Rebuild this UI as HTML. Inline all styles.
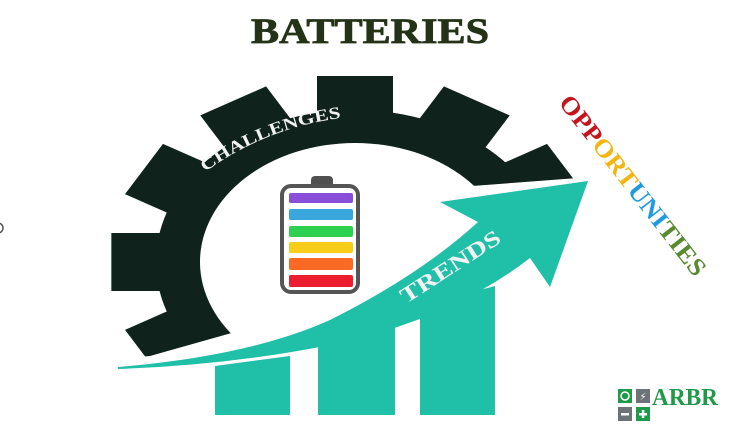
<!DOCTYPE html>
<html><head><meta charset="utf-8"><style>
html,body{margin:0;padding:0;background:#fff;width:750px;height:437px;overflow:hidden}
svg{display:block}
</style></head><body>
<svg width="750" height="437" viewBox="0 0 750 437" xmlns="http://www.w3.org/2000/svg">
<defs>
<clipPath id="gc"><polygon points="0,0,750,0,750,165,472,186,430,210,340,285,260,325,150,356,0,368"/></clipPath>
<mask id="hole"><rect width="750" height="437" fill="#fff"/><ellipse cx="355" cy="262" rx="155" ry="119" fill="#000"/></mask>
</defs>
<text x="370" y="43" text-anchor="middle" font-family="Liberation Serif, serif" font-weight="bold" font-size="36" fill="#243317" textLength="238" lengthAdjust="spacingAndGlyphs" stroke="#243317" stroke-width="0.8">BATTERIES</text>
<g clip-path="url(#gc)" mask="url(#hole)">
 <g transform="translate(355,262) scale(1.31,1)" fill="#0f221c">
  <circle r="152"/>
  <g id="t"><rect x="-29" y="-186" width="58" height="40"/></g>
  <use href="#t" transform="rotate(-30)"/><use href="#t" transform="rotate(-60)"/>
  <use href="#t" transform="rotate(-90)"/><use href="#t" transform="rotate(-120)"/>
  <use href="#t" transform="rotate(30)"/><use href="#t" transform="rotate(60)"/>
 </g>
</g>
<path id="cp" d="M205,172 Q270,125 350,117" fill="none"/>
<text font-family="Liberation Serif, serif" font-weight="bold" font-size="17" fill="#f2f2f2"><textPath href="#cp" textLength="148" lengthAdjust="spacingAndGlyphs">CHALLENGES</textPath></text>
<!-- bars -->
<g fill="#1fbfa8">
<polygon points="215,366 290,356 290,415 215,415"/>
<polygon points="318,343 395,325 395,415 318,415"/>
<polygon points="420,306 495,286 495,415 420,415"/>
</g>
<!-- arrow -->
<path d="M118,367 Q250,356 330,320 Q420,275 478,222 L440,202 L588,181 L550,287 L530,258 Q450,320 330,345 Q230,365 118,369 Z" fill="#1fbfa8"/>
<text transform="translate(406,304) rotate(-33)" font-family="Liberation Serif, serif" font-weight="bold" font-size="22" fill="#f2f2f2" textLength="115" lengthAdjust="spacingAndGlyphs">TRENDS</text>
<!-- battery -->
<rect x="311" y="176" width="22" height="14" rx="4" fill="#505050"/>
<rect x="282" y="186" width="76" height="106" rx="9" fill="#fff" stroke="#555" stroke-width="4"/>
<rect x="289" y="193" width="64" height="10" rx="2" fill="#8a4fd8"/>
<rect x="289" y="209" width="64" height="11" rx="2" fill="#3aa7dc"/>
<rect x="289" y="226" width="64" height="11" rx="2" fill="#2ed14f"/>
<rect x="289" y="242" width="64" height="11" rx="2" fill="#f7cd1a"/>
<rect x="289" y="258" width="64" height="12" rx="2" fill="#fb6a24"/>
<rect x="289" y="275" width="64" height="12" rx="2" fill="#ec1d2e"/>
<!-- opportunities -->
<text transform="translate(558,103) rotate(52)" font-family="Liberation Serif, serif" font-weight="bold" font-size="25" textLength="222" lengthAdjust="spacingAndGlyphs"><tspan fill="#c4151c">OPP</tspan><tspan fill="#f3b512">ORT</tspan><tspan fill="#1e9be0">UNI</tspan><tspan fill="#5a8a30">TIES</tspan></text>
<!-- logo -->
<rect x="618" y="389" width="14" height="14" fill="#1e9a48"/>
<circle cx="625" cy="396" r="4" fill="none" stroke="#fff" stroke-width="1.5"/>
<rect x="636" y="389" width="14" height="14" fill="#6d7379"/>
<text x="643" y="400" text-anchor="middle" font-size="10" fill="#fff" font-family="DejaVu Sans, sans-serif">⚡</text>
<rect x="618" y="407" width="14" height="14" fill="#6d7379"/>
<rect x="621" y="413" width="8" height="2.5" fill="#fff"/>
<rect x="636" y="407" width="14" height="14" fill="#1e9a48"/>
<rect x="639" y="413" width="8" height="2.5" fill="#fff"/><rect x="641.8" y="410" width="2.5" height="8" fill="#fff"/>
<text x="652" y="405" font-family="Liberation Serif, serif" font-weight="bold" font-size="24" fill="#1e9a48" textLength="66" lengthAdjust="spacingAndGlyphs">ARBR</text>
<circle cx="-2" cy="228" r="5" fill="none" stroke="#555" stroke-width="1.5"/>
</svg>
</body></html>
